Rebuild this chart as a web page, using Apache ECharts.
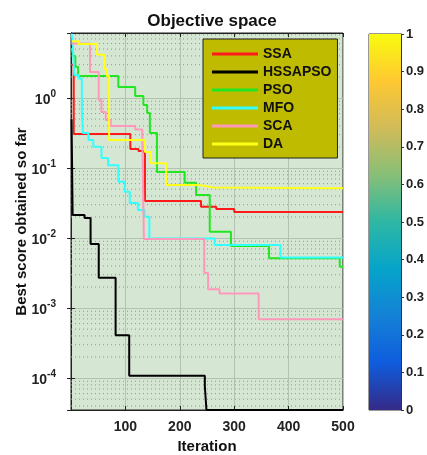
<!DOCTYPE html>
<html>
<head>
<meta charset="utf-8">
<script src="https://cdn.jsdelivr.net/npm/echarts@6/dist/echarts.min.js"></script>
<style>
  html, body { margin: 0; padding: 0; background: #fff; }
  #chart { width: 427px; height: 455px; }
</style>
</head>
<body>
<div id="chart"></div>
<script>
// convergence curves (iteration where the value changes, new value)
const names = ['SSA', 'HSSAPSO', 'PSO', 'MFO', 'SCA', 'DA'];
const colors = ['#ff1a1a', '#000000', '#22e622', '#33ffff', '#ff99bb', '#ffff1a'];

const iterSSA = [1, 5, 109, 124, 132, 136, 239, 267, 300, 500];
const scoreSSA = [3.0, 0.306, 0.187, 0.175, 0.164, 0.0338, 0.028, 0.026, 0.0235, 0.0235];

const iterHSSAPSO = [1, 3, 25, 36, 51, 82, 107, 246, 249, 500];
const scoreHSSAPSO = [0.5, 0.0213, 0.0193, 0.0082, 0.00271, 4.1e-4, 1.08e-4, 7.7e-5, 3.5e-5, 3.5e-5];

const iterPSO = [1, 4, 8, 13, 87, 118, 133, 140, 145, 158, 209, 230, 255, 294, 364, 494, 500];
const scorePSO = [5.2, 4.0, 2.8, 2.06, 1.436, 1.07, 0.794, 0.61, 0.316, 0.0877, 0.0617, 0.0411, 0.0123, 0.00769, 0.00513, 0.0039, 0.0039];

const iterMFO = [1, 3, 6, 14, 20, 22, 32, 41, 56, 68, 87, 99, 108, 123, 135, 144, 264, 385, 500];
const scoreMFO = [8.3, 6.5, 2.13, 1.9, 0.67, 0.316, 0.251, 0.2015, 0.139, 0.110, 0.0637, 0.0458, 0.0316, 0.0251, 0.0201, 0.00984, 0.00794, 0.0053, 0.0053];

const iterSCA = [1, 35, 51, 56, 64, 73, 118, 131, 134, 245, 252, 273, 345, 500];
const scoreSCA = [6.0, 2.35, 0.94, 0.63, 0.485, 0.398, 0.355, 0.296, 0.0097, 0.00316, 0.00185, 0.00162, 0.00069, 0.00069];

const iterDA = [1, 14, 48, 61, 66, 70, 136, 147, 175, 234, 250, 260, 500];
const scoreDA = [6.5, 5.9, 4.17, 2.6, 2.06, 0.251, 0.17, 0.117, 0.0572, 0.055, 0.0527, 0.0513, 0.0513];

const iters = [iterSSA, iterHSSAPSO, iterPSO, iterMFO, iterSCA, iterDA];
const scores = [scoreSSA, scoreHSSAPSO, scorePSO, scoreMFO, scoreSCA, scoreDA];

const xTicks = [100, 200, 300, 400, 500];
const yMin = 3.5e-5, yMax = 8.5;
const barTicks = [0, 0.1, 0.2, 0.3, 0.4, 0.5, 0.6, 0.7, 0.8, 0.9, 1];

// parula colormap stops
const parula = ['#352a87', '#0f5cdd', '#1481d6', '#06a4ca', '#2eb7a4', '#87bf77', '#d1bb59', '#fec832', '#f9fb0e'];

const font = "'Liberation Sans', Arial, sans-serif";

// dotted minor grid at 2..9 x 10^k
const minorVals = [];
for (let e = -5; e <= 0; e++) {
  for (let k = 2; k <= 9; k++) {
    const v = k * Math.pow(10, e);
    if (v > yMin && v < yMax) minorVals.push(v);
  }
}

const chart = echarts.init(document.getElementById('chart'));

const series = [];

// minor grid lines, drawn as flat lines through the axes
minorVals.forEach(v => {
  series.push({
    type: 'line',
    silent: true,
    showSymbol: false,
    symbol: 'none',
    data: [[0, v], [500, v]],
    lineStyle: { type: [1, 3], color: '#8c9a8b', width: 1 },
    z: 1
  });
});

names.forEach((n, i) => {
  series.push({
    name: n,
    type: 'line',
    step: 'end',
    showSymbol: false,
    symbol: 'none',
    data: iters[i].map((x, j) => [x, scores[i][j]]),
    lineStyle: { color: colors[i], width: 2 },
    itemStyle: { color: colors[i] },
    xAxisIndex: 0,
    yAxisIndex: 0,
    z: 2
  });
});

series.push({
  type: 'bar',
  xAxisIndex: 2,
  yAxisIndex: 2,
  data: [1],
  barWidth: '100%',
  silent: true,
  itemStyle: {
    color: new echarts.graphic.LinearGradient(0, 1, 0, 0,
      parula.map((c, i) => ({ offset: i / (parula.length - 1), color: c })))
  }
});

const labelStyle = { color: '#222', fontWeight: 'bold', fontSize: 14, fontFamily: font };

const option = {
  animation: false,
  backgroundColor: '#fff',
  title: {
    text: 'Objective space',
    left: 207,
    textAlign: 'center',
    top: 8,
    textStyle: { fontSize: 17, fontWeight: 'bold', color: '#111', fontFamily: font }
  },
  legend: {
    data: names,
    orient: 'vertical',
    left: 203,
    top: 39,
    width: 134,
    padding: [7, 6, 6, 9],
    itemGap: 2,
    itemWidth: 46,
    itemHeight: 3,
    icon: 'rect',
    backgroundColor: '#bfbb00',
    borderColor: '#222',
    borderWidth: 1,
    borderRadius: 0,
    textStyle: { fontSize: 14, fontWeight: 'bold', color: '#111', fontFamily: font, lineHeight: 16 },
    selectedMode: false
  },
  grid: [
    { left: 71, top: 33, width: 272, height: 377, outerBoundsMode: 'none', show: true, backgroundColor: '#d5e6d2', borderColor: '#222', borderWidth: 1 },
    { left: 369, top: 34, width: 32, height: 376, outerBoundsMode: 'none', show: true, borderColor: '#333', borderWidth: 1 }
  ],
  xAxis: [
    {
      type: 'value', gridIndex: 0, min: 0, max: 500, interval: 100,
      name: 'Iteration', nameLocation: 'middle', nameGap: 29, nameMoveOverlap: false,
      nameTextStyle: { fontSize: 15, fontWeight: 'bold', color: '#111', fontFamily: font },
      axisLine: { show: true, lineStyle: { color: '#222' } },
      axisTick: { inside: true, length: 4, lineStyle: { color: '#222' } },
      axisLabel: Object.assign({ margin: 10, formatter: v => xTicks.includes(v) ? String(v) : '' }, labelStyle),
      splitLine: { show: true, lineStyle: { color: '#b3c3b1', width: 1 } }
    },
    {
      type: 'value', gridIndex: 0, min: 0, max: 500, interval: 100, position: 'top',
      axisLine: { show: true, lineStyle: { color: '#222' } },
      axisTick: { inside: true, length: 4, lineStyle: { color: '#222' } },
      axisLabel: { show: false },
      splitLine: { show: false }
    },
    {
      type: 'category', gridIndex: 1, data: [''],
      axisLine: { show: false }, axisTick: { show: false }, axisLabel: { show: false }
    }
  ],
  yAxis: [
    {
      type: 'log', gridIndex: 0, min: yMin, max: yMax, logBase: 10,
      name: 'Best score obtained so far', nameLocation: 'middle', nameGap: 42, nameMoveOverlap: false,
      nameTextStyle: { fontSize: 15, fontWeight: 'bold', color: '#111', fontFamily: font },
      axisLine: { show: true, lineStyle: { color: '#222' } },
      axisTick: { inside: true, length: 4, lineStyle: { color: '#222' } },
      axisLabel: {
        margin: 15,
        formatter: v => {
          const e = Math.log10(v);
          if (Math.abs(e - Math.round(e)) > 1e-6) return '';
          return '{b|10}{s|' + Math.round(e) + '}';
        },
        rich: {
          b: { fontSize: 14, fontWeight: 'bold', color: '#222', fontFamily: font, verticalAlign: 'bottom' },
          s: { fontSize: 10, fontWeight: 'bold', color: '#222', fontFamily: font, verticalAlign: 'bottom', padding: [0, 0, 8, 0] }
        }
      },
      splitLine: { show: true, lineStyle: { color: '#b3c3b1', width: 1 } }
    },
    {
      type: 'log', gridIndex: 0, min: yMin, max: yMax, logBase: 10, position: 'right',
      axisLine: { show: true, lineStyle: { color: '#222' } },
      axisTick: { inside: true, length: 4, lineStyle: { color: '#222' } },
      axisLabel: { show: false },
      splitLine: { show: false }
    },
    {
      type: 'value', gridIndex: 1, min: 0, max: 1, interval: 0.1, position: 'right',
      axisLine: { show: true, lineStyle: { color: '#333' } },
      axisTick: { show: true, inside: false, length: 3, lineStyle: { color: '#333' } },
      axisLabel: Object.assign({ margin: 5, formatter: v => barTicks.includes(Math.round(v * 10) / 10) ? String(Math.round(v * 10) / 10) : '' }, labelStyle, { fontSize: 13 }),
      splitLine: { show: false }
    }
  ],
  series: series
};

chart.setOption(option);
</script>
</body>
</html>
